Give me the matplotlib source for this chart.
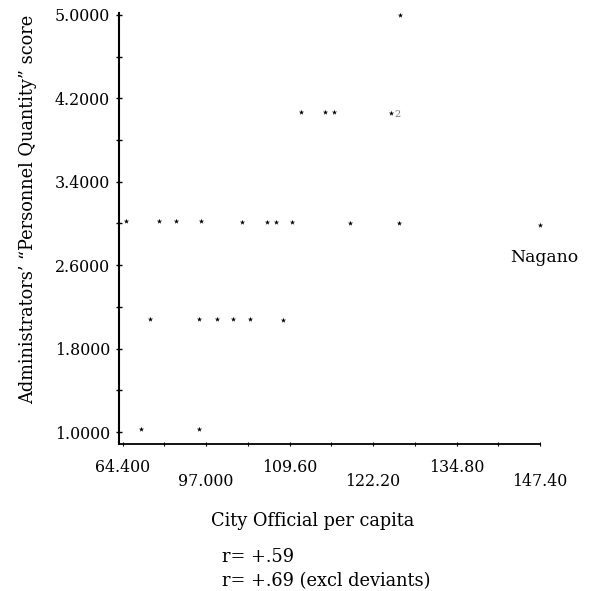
import numpy as np
import matplotlib
matplotlib.use("Agg")
import matplotlib.pyplot as plt
from matplotlib.scale import FuncScale

# ---- data ----
x_tick_values = [64.4, 97.0, 109.6, 122.2, 134.8, 147.4]
x_tick_labels = ["64.400", "97.000", "109.60", "122.20", "134.80", "147.40"]
y_tick_values = [1.0, 1.8, 2.6, 3.4, 4.2, 5.0]
y_tick_labels = ["1.0000", "1.8000", "2.6000", "3.4000", "4.2000", "5.0000"]

officials_per_capita = [
    126.2,
    111.4, 115.0, 116.3, 124.9,
    65.7, 78.7, 85.2, 95.0, 102.5, 106.2, 107.5, 110.0, 118.7, 126.1,
    147.4,
    75.2, 94.4, 98.6, 101.1, 103.7, 108.6,
    71.5, 94.3,
]
personnel_quantity = [
    5.00,
    4.07, 4.07, 4.07, 4.06,
    3.02, 3.02, 3.02, 3.02, 3.01, 3.01, 3.01, 3.01, 3.00, 3.00,
    2.99,
    2.08, 2.08, 2.08, 2.08, 2.08, 2.07,
    1.03, 1.03,
]
label_nagano = "Nagano"
multiplicity_note = "2"
x_title = "City Official per capita"
y_title = "Administrators\u2019 \u201cPersonnel Quantity\u201d score"
r_lines = ["r= +.59", "r= +.69 (excl deviants)"]

# ---- figure ----
W, H = 590, 591
fig = plt.figure(figsize=(W / 100, H / 100), dpi=100)
serif = "DejaVu Serif"
fs_tick = 11.4
fs_title = 12.8

ax = fig.add_axes([118.5 / W, (H - 444) / H, (540 - 118.5) / W, (444 - 13) / H])

# tick labels on the source are evenly spaced although the values are not
slots = np.arange(len(x_tick_values), dtype=float)
xv = np.asarray(x_tick_values, float)
xp = np.concatenate([[xv[0] - 3 * (xv[1] - xv[0])], xv, [xv[-1] + 3 * (xv[-1] - xv[-2])]])
fp = np.concatenate([[-3.0], slots, [slots[-1] + 3.0]])


def fwd(x):
    return np.interp(np.asarray(x, float), xp, fp)


def bwd(u):
    return np.interp(np.asarray(u, float), fp, xp)


ax.set_xscale(FuncScale(ax.xaxis, (fwd, bwd)))
ax.set_xlim(float(bwd(-0.048)), x_tick_values[-1])
ax.set_ylim(0.885, 5.019)

ax.scatter(officials_per_capita, personnel_quantity, marker="*", s=16,
           color="black", linewidths=0, clip_on=False, zorder=3)

# spines
for s in ["top", "right"]:
    ax.spines[s].set_visible(False)
ax.spines["left"].set_linewidth(1.5)
ax.spines["bottom"].set_linewidth(1.3)

# y ticks
ax.set_yticks(y_tick_values)
ax.set_yticklabels(y_tick_labels, fontfamily=serif, fontsize=fs_tick)
ax.set_yticks([1.4, 2.2, 3.0, 3.8, 4.6], minor=True)
ax.tick_params(axis="y", which="both", direction="inout", length=4, width=1, pad=4.1)

# x ticks (labels drawn staggered by hand)
ax.set_xticks(x_tick_values)
ax.set_xticks(bwd(slots[:-1] + 0.5), minor=True)
ax.tick_params(axis="x", which="both", direction="inout", length=3, width=0.8,
               labelbottom=False)
xt = ax.get_xaxis_transform()
for i, (v, lab) in enumerate(zip(x_tick_values, x_tick_labels)):
    yy = -0.0534 if i % 2 == 0 else -0.086
    ax.text(v, yy, lab, transform=xt, ha="center", va="center",
            fontfamily=serif, fontsize=fs_tick)

# annotations
ax.annotate(label_nagano, (officials_per_capita[15], personnel_quantity[15]),
            xytext=(3, -33 * 0.72), textcoords="offset points",
            ha="center", va="center", fontfamily=serif, fontsize=12.4,
            annotation_clip=False)
ax.annotate(multiplicity_note, (officials_per_capita[4], personnel_quantity[4]),
            xytext=(6.5 * 0.72, -1.5 * 0.72), textcoords="offset points",
            ha="center", va="center", fontfamily=serif, fontsize=7,
            color="#777777")

# titles / notes
fig.text(28 / W, 1 - 209 / H, y_title, rotation=90, ha="center", va="center",
         fontfamily=serif, fontsize=fs_title)
fig.text(313 / W, 1 - 521 / H, x_title, ha="center", va="center",
         fontfamily=serif, fontsize=fs_title)
fig.text(222 / W, 1 - 557 / H, r_lines[0], ha="left", va="center",
         fontfamily=serif, fontsize=fs_title)
fig.text(222 / W, 1 - 581 / H, r_lines[1], ha="left", va="center",
         fontfamily=serif, fontsize=fs_title)

fig.savefig("out.png", dpi=100)
